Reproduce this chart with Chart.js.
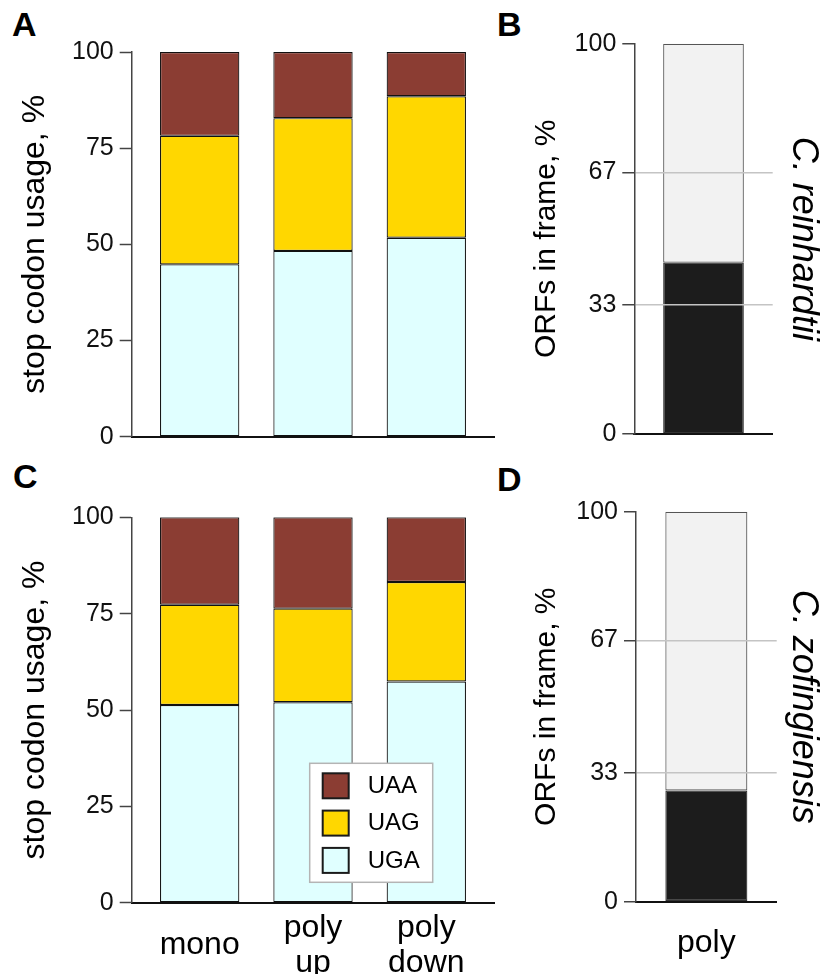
<!DOCTYPE html>
<html>
<head>
<meta charset="utf-8">
<title>Stop codon usage</title>
<script src="https://cdn.jsdelivr.net/npm/chart.js"></script>
<style>
  html, body { margin: 0; padding: 0; background: #fff; overflow: hidden; }
  body { position: relative; width: 820px; height: 974px; font-family: "Liberation Sans", Arial, sans-serif; }
  canvas { position: absolute; }
  .tag { position: absolute; font-weight: bold; font-size: 34px; line-height: 34px; color: #000; }
</style>
</head>
<body>
<div class="tag" style="left:12px; top:7px">A</div>
<div class="tag" style="left:497px; top:7px">B</div>
<div class="tag" style="left:13px; top:459px">C</div>
<div class="tag" style="left:497px; top:462px">D</div>

<canvas id="chartA" width="500" height="470" style="left:0; top:0"></canvas>
<canvas id="chartB" width="340" height="470" style="left:500px; top:0"></canvas>
<canvas id="chartC" width="500" height="504" style="left:0; top:470px"></canvas>
<canvas id="chartD" width="340" height="504" style="left:500px; top:470px"></canvas>

<script>
// categories / tick labels
const groups = [['mono'], ['poly', 'up'], ['poly', 'down']];
const codons = ['UGA', 'UAG', 'UAA'];
const codonColors = ['#E0FFFF', '#FFD700', '#8B3D33'];
const usageTicks = [0, 25, 50, 75, 100];

// C. reinhardtii, stop codon usage (%)
const reinUGA = [44.8, 48.3, 51.7];
const reinUAG = [33.4, 34.5, 36.8];
const reinUAA = [21.8, 17.2, 11.5];

// C. zofingiensis, stop codon usage (%)
const zofUGA = [51.3, 52.0, 57.4];
const zofUAG = [26.0, 24.3, 25.8];
const zofUAA = [22.7, 23.7, 16.8];

// ORFs in frame (%)
const frameGroups = ['poly'];
const frameTicks = [0, 33, 67, 100];
const frameGrid = [33, 67];
const reinInFrame = [43.9];
const reinOther = [56.1];
const zofInFrame = [28.5];
const zofOther = [71.5];

Chart.defaults.font.family = '"Liberation Sans", Arial, sans-serif';
Chart.defaults.color = '#000';
Chart.defaults.animation = false;

// legend drawn inside the plot, on top of the bars
const boxLegend = {
    id: 'boxLegend',
    afterDatasetsDraw(chart) {
        const { ctx, chartArea } = chart;
        const x = chartArea.left + 178, y = chartArea.top + 246;
        ctx.save();
        ctx.fillStyle = '#fff';
        ctx.fillRect(x, y, 123, 119);
        ctx.strokeStyle = '#b4b4b4';
        ctx.lineWidth = 1.5;
        ctx.strokeRect(x, y, 123, 119);
        ctx.font = '24px "Liberation Sans", Arial, sans-serif';
        ctx.textBaseline = 'middle';
        chart.data.datasets.slice().reverse().forEach((ds, i) => {
            const sy = y + 10 + i * 37.3;
            ctx.fillStyle = ds.backgroundColor;
            ctx.fillRect(x + 13, sy, 26, 25);
            ctx.strokeStyle = '#1a1a1a';
            ctx.lineWidth = 2;
            ctx.strokeRect(x + 13, sy, 26, 25);
            ctx.fillStyle = '#000';
            ctx.fillText(ds.label, x + 58, sy + 13);
        });
        ctx.restore();
    }
};

function yAxis(ticks, area, title, titleSize, titlePad) {
    return {
        min: 0, max: 100, stacked: true,
        afterFit: s => { s.width = area.left; },
        afterBuildTicks: s => { s.ticks = ticks.map(v => ({ value: v })); },
        ticks: { callback: v => String(v), font: { size: 25 }, padding: 6, color: '#111' },
        grid: { drawOnChartArea: false, tickLength: 12, tickColor: '#444', tickWidth: 1.5 },
        border: { color: '#444', width: 1.5 },
        title: { display: true, text: title, font: { size: titleSize }, padding: { top: titlePad, bottom: 0 } }
    };
}

function xAxis(labels, min, max, area, height, showLabels, pad) {
    return {
        type: 'linear', min: min, max: max, offset: false, stacked: true,
        afterFit: s => { s.height = height - area.bottom; },
        afterBuildTicks: s => { s.ticks = labels.map((_, i) => ({ value: i })); },
        ticks: {
            display: showLabels, callback: v => labels[v], autoSkip: false, maxRotation: 0,
            crossAlign: 'center', padding: pad, font: { size: 32, lineHeight: 1.1 }, color: '#000'
        },
        grid: { display: false, drawTicks: false, offset: false },
        border: { color: '#111', width: 2 }
    };
}

function usageChart(id, uga, uag, uaa, area, showLabels, plugins) {
    const canvas = document.getElementById(id);
    const values = [uga, uag, uaa];
    new Chart(canvas, {
        type: 'bar',
        data: {
            labels: groups.map((_, i) => i),
            datasets: codons.map((c, i) => ({
                label: c,
                data: values[i],
                backgroundColor: codonColors[i],
                borderColor: '#111',
                borderWidth: 1.2,
                borderSkipped: false,
                barPercentage: 0.7,
                categoryPercentage: 1
            }))
        },
        options: {
            responsive: false,
            layout: { padding: { top: area.top, right: canvas.width - area.right, left: 0, bottom: 0 } },
            plugins: { legend: { display: false }, tooltip: { enabled: false } },
            scales: {
                x: xAxis(groups, -0.6, 2.6, area, canvas.height, showLabels, 25),
                y: yAxis(usageTicks, area, 'stop codon usage, %', 32, 16)
            }
        },
        plugins: plugins || []
    });
}

function frameChart(id, inFrame, other, species, area, showLabels) {
    const canvas = document.getElementById(id);
    const y = yAxis(frameTicks, area, 'ORFs in frame, %', 30, 29);
    // reference lines at 33 / 67 sit on top of the bar
    y.grid = {
        drawOnChartArea: true, z: 1, lineWidth: 1.5,
        color: c => (c.tick && frameGrid.includes(c.tick.value)) ? '#c4c4c4' : 'rgba(0,0,0,0)',
        tickLength: 12, tickColor: '#444', tickWidth: 1.5
    };
    y.border.z = 2;
    new Chart(canvas, {
        type: 'bar',
        data: {
            labels: frameGroups.map((_, i) => i),
            datasets: [
                { label: 'in frame', data: inFrame, backgroundColor: '#1c1c1c', borderColor: '#333' },
                { label: 'other', data: other, backgroundColor: '#f2f2f2', borderColor: '#555' }
            ].map(d => Object.assign(d, { borderWidth: 1.2, borderSkipped: false, barPercentage: 0.583, categoryPercentage: 1 }))
        },
        options: {
            responsive: false,
            layout: { padding: { top: area.top, right: 0, left: 0, bottom: 0 } },
            plugins: { legend: { display: false }, tooltip: { enabled: false } },
            scales: {
                x: xAxis(frameGroups, -0.5, 0.5, area, canvas.height, showLabels, 41),
                y: y,
                side: {
                    type: 'linear', position: 'right',
                    afterFit: s => { s.width = canvas.width - area.right; },
                    ticks: { display: false },
                    grid: { display: false, drawTicks: false, drawOnChartArea: false },
                    border: { display: false },
                    title: { display: true, text: species, font: { size: 36, style: 'italic' }, padding: { top: 15, bottom: 0 } }
                }
            }
        }
    });
}

usageChart('chartA', reinUGA, reinUAG, reinUAA, { left: 131.7, top: 52, right: 494.3, bottom: 436.7 }, false);
frameChart('chartB', reinInFrame, reinOther, 'C. reinhardtii', { left: 134.3, top: 43.7, right: 272.7, bottom: 434 }, false);
usageChart('chartC', zofUGA, zofUAG, zofUAA, { left: 131.7, top: 47.3, right: 494.3, bottom: 432.7 }, true, [boxLegend]);
frameChart('chartD', zofInFrame, zofOther, 'C. zofingiensis', { left: 136, top: 41.7, right: 276.7, bottom: 431.7 }, true);
</script>
</body>
</html>
